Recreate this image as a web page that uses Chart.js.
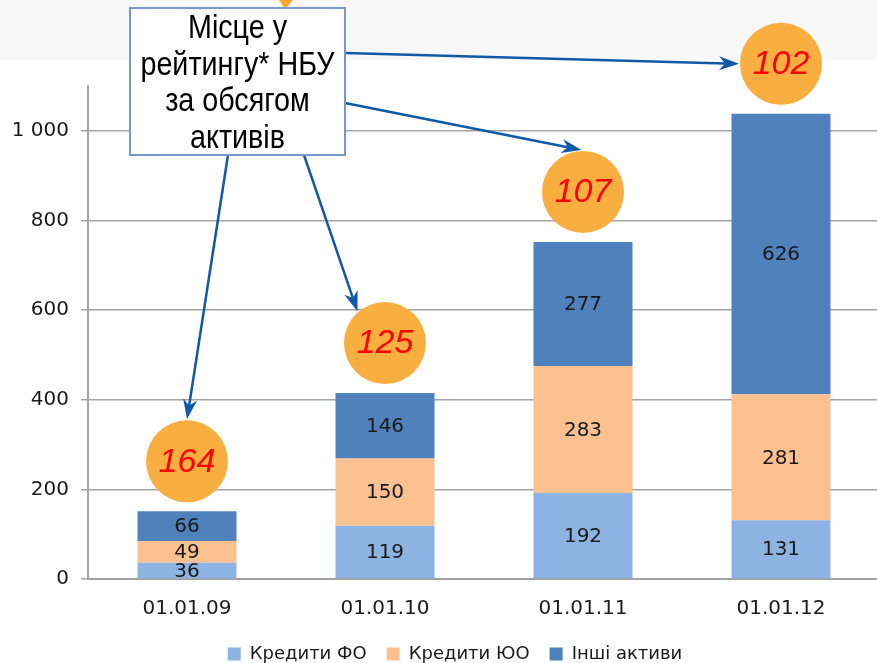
<!DOCTYPE html>
<html>
<head>
<meta charset="utf-8">
<script src="https://cdn.jsdelivr.net/npm/chart.js@4"></script>
<style>
    html, body { margin: 0; padding: 0; background: #fff; overflow: hidden; }
    #wrap { width: 880px; height: 663px; }
</style>
</head>
<body>
<div id="wrap"><canvas id="assetsChart" width="880" height="663"></canvas></div>
<script>
// data
const dates = ['01.01.09', '01.01.10', '01.01.11', '01.01.12'];
const creditsFO = [36, 119, 192, 131];
const creditsUO = [49, 150, 283, 281];
const otherAssets = [66, 146, 277, 626];
const ratingNBU = [164, 125, 107, 102];
const seriesNames = ['Кредити ФО', 'Кредити ЮО', 'Інші активи'];
const boxLines = ['Місце у', 'рейтингу* НБУ', 'за обсягом', 'активів'];

const Y_MAX = 1100;
const Y_STEP = 200;

// styles
const COLORS = ['#8db3e2', '#fac090', '#4f81bd'];
const GRID = '#a3a3a3';
const CIRCLE_FILL = '#f9ae40';
const ARROW = '#1059a6';
const CIRCLE_R = 41;
const CIRCLE_GAP = 50;            // px above the top of the stack
const ARROW_TIP_ANGLES = [-90, -131, -92, 180]; // where each arrow hits its circle
const BOX = { x: 130, y: 8, w: 215, h: 147 };
const ARROW_STARTS = [[228, 155], [304, 155], [345, 103], [345, 53]];
const LEGEND_SHIFT = 15;

function formatThousands(v) {
    return String(v).replace(/\B(?=(\d{3})+(?!\d))/g, ' ');
}

function drawArrow(ctx, x1, y1, x2, y2) {
    const ang = Math.atan2(y2 - y1, x2 - x1);
    const headLen = 20, headW = 7;
    const bx = x2 - Math.cos(ang) * headLen * 0.7;
    const by = y2 - Math.sin(ang) * headLen * 0.7;
    ctx.save();
    ctx.strokeStyle = ARROW;
    ctx.fillStyle = ARROW;
    ctx.lineWidth = 2.5;
    ctx.beginPath();
    ctx.moveTo(x1, y1);
    ctx.lineTo(bx, by);
    ctx.stroke();
    // stealth style head
    const px = -Math.sin(ang), py = Math.cos(ang);
    const baseX = x2 - Math.cos(ang) * headLen;
    const baseY = y2 - Math.sin(ang) * headLen;
    ctx.beginPath();
    ctx.moveTo(x2, y2);
    ctx.lineTo(baseX + px * headW, baseY + py * headW);
    ctx.lineTo(bx, by);
    ctx.lineTo(baseX - px * headW, baseY - py * headW);
    ctx.closePath();
    ctx.fill();
    ctx.restore();
}

const backgroundPlugin = {
    id: 'slideBackground',
    afterLayout(chart) {
        // legend sits a little right of the canvas centre
        chart.legend.left += LEGEND_SHIFT;
        chart.legend.right += LEGEND_SHIFT;
    },
    beforeDraw(chart) {
        const ctx = chart.ctx;
        ctx.save();
        ctx.fillStyle = '#f8f8f8';
        ctx.fillRect(0, 0, chart.width, 60);
        // bit of an orange shape peeking at the top
        ctx.fillStyle = '#f4a825';
        ctx.beginPath();
        ctx.moveTo(279, 0);
        ctx.lineTo(293, 0);
        ctx.lineTo(285, 9);
        ctx.closePath();
        ctx.fill();
        ctx.restore();
    }
};

const valueLabelsPlugin = {
    id: 'valueLabels',
    afterDatasetsDraw(chart) {
        const ctx = chart.ctx;
        ctx.save();
        ctx.font = '20px "DejaVu Sans"';
        ctx.fillStyle = '#1a1a1a';
        ctx.textAlign = 'center';
        ctx.textBaseline = 'middle';
        chart.data.datasets.forEach((ds, i) => {
            chart.getDatasetMeta(i).data.forEach((bar, j) => {
                const mid = (bar.y + bar.base) / 2;
                ctx.fillText(ds.data[j], bar.x, mid + 1);
            });
        });
        ctx.restore();
    }
};

const ratingPlugin = {
    id: 'ratingCallouts',
    afterDraw(chart) {
        const ctx = chart.ctx;
        const x = chart.scales.x;
        const y = chart.scales.y;
        const centers = dates.map((d, i) => {
            const total = creditsFO[i] + creditsUO[i] + otherAssets[i];
            return { cx: x.getPixelForValue(i), cy: y.getPixelForValue(total) - CIRCLE_GAP };
        });

        // circles with the rank
        centers.forEach(({ cx, cy }, i) => {
            ctx.save();
            ctx.fillStyle = CIRCLE_FILL;
            ctx.beginPath();
            ctx.arc(cx, cy, CIRCLE_R, 0, Math.PI * 2);
            ctx.fill();
            ctx.fillStyle = '#ff0000';
            ctx.font = 'italic 34px "Liberation Sans"';
            ctx.textAlign = 'center';
            ctx.textBaseline = 'middle';
            ctx.fillText(ratingNBU[i], cx, cy + 1);
            ctx.restore();
        });

        // arrows from the text box
        centers.forEach(({ cx, cy }, i) => {
            const a = ARROW_TIP_ANGLES[i] * Math.PI / 180;
            const tx = cx + Math.cos(a) * (CIRCLE_R + 1);
            const ty = cy + Math.sin(a) * (CIRCLE_R + 1);
            drawArrow(ctx, ARROW_STARTS[i][0], ARROW_STARTS[i][1], tx, ty);
        });

        // text box
        ctx.save();
        ctx.fillStyle = '#ffffff';
        ctx.fillRect(BOX.x, BOX.y, BOX.w, BOX.h);
        ctx.strokeStyle = '#7b95cf';
        ctx.lineWidth = 2;
        ctx.strokeRect(BOX.x, BOX.y, BOX.w, BOX.h);
        ctx.fillStyle = '#000000';
        ctx.font = '33px "Liberation Sans"';
        ctx.textAlign = 'center';
        ctx.textBaseline = 'alphabetic';
        const midX = BOX.x + BOX.w / 2;
        boxLines.forEach((line, k) => {
            ctx.save();
            ctx.translate(midX, BOX.y + 30 + k * 36.5);
            ctx.scale(0.87, 1);
            ctx.fillText(line, 0, 0);
            ctx.restore();
        });
        ctx.restore();
    }
};

const chart = new Chart(document.querySelector('#assetsChart'), {
    type: 'bar',
    data: {
        labels: dates,
        datasets: [
            { label: seriesNames[0], data: creditsFO, backgroundColor: COLORS[0] },
            { label: seriesNames[1], data: creditsUO, backgroundColor: COLORS[1] },
            { label: seriesNames[2], data: otherAssets, backgroundColor: COLORS[2] }
        ]
    },
    options: {
        responsive: false,
        animation: false,
        layout: { padding: { top: 86, left: 0, right: 0, bottom: -10 } },
        datasets: {
            bar: { barPercentage: 0.5, categoryPercentage: 1 }
        },
        plugins: {
            tooltip: { enabled: false },
            legend: {
                position: 'bottom',
                labels: {
                    font: { family: 'DejaVu Sans', size: 18 },
                    color: '#1a1a1a',
                    boxWidth: 13,
                    boxHeight: 13,
                    padding: 20
                }
            }
        },
        scales: {
            x: {
                stacked: true,
                grid: { display: false },
                border: { display: true, color: GRID, width: 2 },
                ticks: {
                    font: { family: 'DejaVu Sans', size: 20 },
                    color: '#1a1a1a',
                    padding: 10
                },
                afterFit(scale) { scale.height = 46; }
            },
            y: {
                stacked: true,
                min: 0,
                max: Y_MAX,
                grid: { color: GRID, lineWidth: 1.5, tickLength: 7 },
                border: { display: true, color: GRID, width: 2 },
                ticks: {
                    stepSize: Y_STEP,
                    font: { family: 'DejaVu Sans', size: 20 },
                    color: '#1a1a1a',
                    padding: 12,
                    callback: v => formatThousands(v)
                },
                afterBuildTicks(scale) {
                    scale.ticks = scale.ticks.filter(t => t.value <= 1000);
                },
                afterFit(scale) { scale.width = 88; }
            }
        }
    },
    plugins: [backgroundPlugin, valueLabelsPlugin, ratingPlugin]
});
</script>
</body>
</html>
